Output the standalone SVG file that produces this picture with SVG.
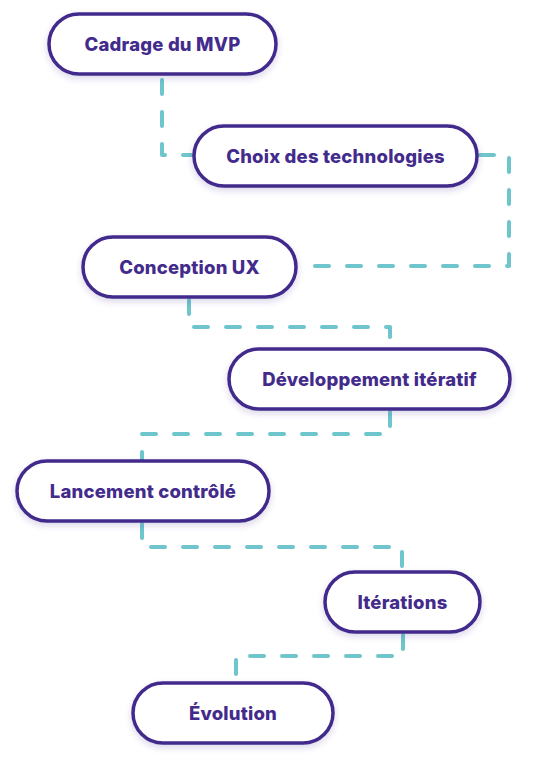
<svg xmlns="http://www.w3.org/2000/svg" width="540" height="770" viewBox="0 0 540 770">
<defs>
<filter id="sh" x="-20%" y="-40%" width="140%" height="190%">
<feDropShadow dx="0" dy="3" stdDeviation="3" flood-color="#3f2a8a" flood-opacity="0.18"/>
</filter>
<style>
.n rect{fill:#fff;stroke:#432b8c;stroke-width:3.5;filter:url(#sh)}
.n text{font-family:Inter,"Open Sans","Liberation Sans",sans-serif;font-weight:800;font-size:18.5px;letter-spacing:0.2px;fill:#432b8c;text-anchor:middle;dominant-baseline:central}
.c path{fill:none;stroke:#6ec6cc;stroke-width:4;stroke-dasharray:14 18;stroke-linecap:round;stroke-linejoin:round}
</style>
</defs>
<rect width="540" height="770" fill="#fff"/>
<g class="c" id="connectors">
<path d="M162 80 V155 H194"/>
<path d="M480 155 H509 V266 H300"/>
<path d="M189 300 V327 H390 V349"/>
<path d="M390 412 V434 H142 V461"/>
<path d="M142 524 V547 H402 V573"/>
<path d="M403 635 V656 H236 V683"/>
</g>
<g class="n" id="n1"><rect x="49" y="14" width="227" height="60" rx="30"/><text x="162.5" y="44">Cadrage du MVP</text></g>
<g class="n" id="n2"><rect x="194" y="126" width="283" height="60" rx="30"/><text x="335.5" y="156">Choix des technologies</text></g>
<g class="n" id="n3"><rect x="83" y="237" width="213" height="60" rx="30"/><text x="189.5" y="267">Conception UX</text></g>
<g class="n" id="n4"><rect x="229" y="349" width="281" height="60" rx="30"/><text x="369.5" y="379">Développement itératif</text></g>
<g class="n" id="n5"><rect x="17" y="461" width="252" height="60" rx="30"/><text x="143" y="491">Lancement contrôlé</text></g>
<g class="n" id="n6"><rect x="325" y="572" width="155" height="60" rx="30"/><text x="402.5" y="602">Itérations</text></g>
<g class="n" id="n7"><rect x="133" y="683" width="200" height="60" rx="30"/><text x="233" y="713">Évolution</text></g>
</svg>
